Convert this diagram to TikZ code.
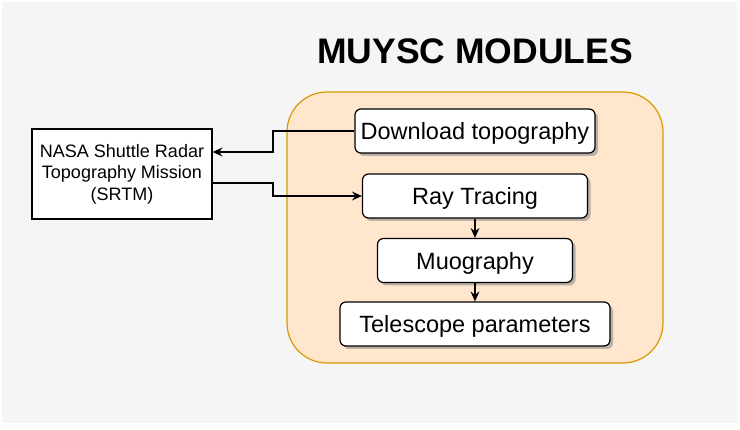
\documentclass[tikz,border=0pt]{standalone}
\usepackage{fontspec}
\setmainfont{Liberation Sans}
\usetikzlibrary{arrows.meta,shadows}
\definecolor{bgc}{HTML}{F5F5F5}
\definecolor{orfill}{HTML}{FFE6CC}
\definecolor{orline}{HTML}{D79B00}
\begin{document}
\begin{tikzpicture}[x=1pt,y=-1pt,
  modbox/.style={draw=black, line width=1.2pt, fill=white, rounded corners=6pt,
    minimum height=44pt, inner sep=0pt, text height=22.5pt, text depth=5pt,
    font=\fontsize{23.5}{28}\selectfont,
    drop shadow={shadow xshift=3pt, shadow yshift=-3pt, fill=black!45, opacity=0.6}},
  arr/.style={draw=black, line width=1.2pt, -{Stealth[length=10pt,width=9pt,inset=3.5pt]}}]
\useasboundingbox (0,0) rectangle (740,430);
\fill[bgc] (2,2) rectangle (737,423);
\node[font=\fontsize{35.5}{40}\selectfont\bfseries] (title) at (475,51.5) {MUYSC MODULES};
\node[draw=orline, fill=orfill, line width=1.2pt, rounded corners=40pt,
  minimum width=376pt, minimum height=271pt, inner sep=0pt] (cont) at (475,227.5) {};
\node[modbox, minimum width=240pt] (dl) at (475,131) {Download topography};
\node[modbox, minimum width=225pt] (rt) at (475,196) {Ray Tracing};
\node[modbox, minimum width=195pt] (mu) at (475,260.5) {Muography};
\node[modbox, minimum width=270pt] (tp) at (475,324) {Telescope parameters};
\node[draw=black, line width=1.2pt, fill=white, minimum width=180pt, minimum height=90pt,
  inner sep=0pt, align=center, font=\fontsize{18}{21.5}\selectfont] (srtm) at (122,174)
  {NASA Shuttle Radar\\Topography Mission\\(SRTM)};
\draw[arr] (dl.west) -- (273,131) -- (273,152) -- (srtm.east |- 0,152);
\draw[arr] (srtm.east |- 0,183) -- (273,183) -- (273,196) -- (rt.west);
\draw[arr] (rt.south) -- (mu.north);
\draw[arr] (mu.south) -- (tp.north);
\end{tikzpicture}
\end{document}
